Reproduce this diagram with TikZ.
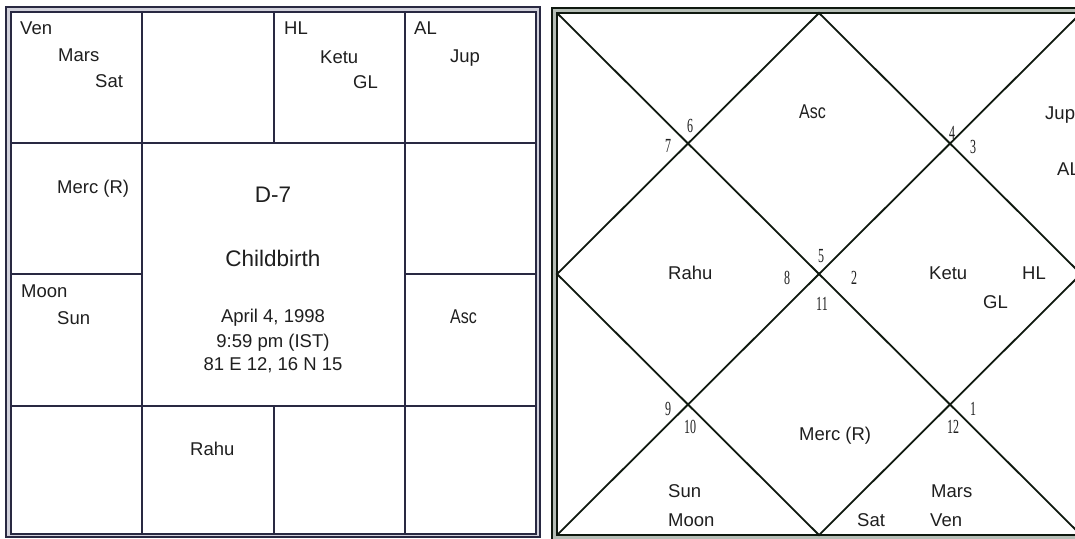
\documentclass[tikz,border=0pt]{standalone}
\usepackage{fontspec}
\setmainfont{Liberation Sans}
\newfontfamily\narrowfont[FakeStretch=0.8]{Liberation Sans}
\newfontfamily\numfont[FakeStretch=0.6]{Liberation Serif}
\usepackage{tikz}
\definecolor{navycol}{rgb}{0.16,0.16,0.26}
\definecolor{gapcol}{rgb}{0.82,0.82,0.86}
\definecolor{inkcol}{rgb}{0.06,0.10,0.06}

\begin{document}
\begin{tikzpicture}[x=1pt,y=-1pt,
  every node/.style={inner sep=0pt,text=black!88,font=\fontsize{18.5}{20}\selectfont},
  pl/.style={anchor=base west},
  asc/.style={anchor=base west,font=\narrowfont\fontsize{20}{20}\selectfont},
  hno/.style={font=\numfont\fontsize{20}{20}\selectfont}]
  \useasboundingbox (0,0) rectangle (1075,538);
  \clip (0,0) rectangle (1075,538);
  \fill[gapcol] (6,7) rectangle (540,537);
  \fill[white] (11,12) rectangle (536,534);
  \draw[navycol,line width=2.2pt] (6,7) rectangle (540,537);
  \draw[navycol,line width=1.6pt] (11,12) rectangle (536,534);
  \begin{scope}[navycol,line width=2.3pt]
    \foreach \x in {142,405} \draw (\x,12) -- (\x,534);
    \foreach \y in {143,406} \draw (11,\y) -- (536,\y);
    \draw (274,12) -- (274,143) (274,406) -- (274,534);
    \draw (11,274) -- (142,274) (405,274) -- (536,274);
  \end{scope}
  \node[pl] (s-ven) at (20,34) {Ven};
  \node[pl] (s-mars) at (58,61) {Mars};
  \node[pl] (s-sat) at (95,87) {Sat};
  \node[pl] (s-hl) at (284,34) {HL};
  \node[pl] (s-ketu) at (320,63) {Ketu};
  \node[pl] (s-gl) at (353,88) {GL};
  \node[pl] (s-al) at (414,34) {AL};
  \node[pl] (s-jup) at (450,62) {Jup};
  \node[pl] (s-merc) at (57,193) {Merc (R)};
  \node[pl] (s-moon) at (21,297) {Moon};
  \node[pl] (s-sun) at (57,324) {Sun};
  \node[asc] (s-asc) at (450,323) {Asc};
  \node[pl] (s-rahu) at (190,455) {Rahu};
  \node[anchor=base,font=\fontsize{22.5}{26}\selectfont] (title) at (273,202) {D-7};
  \node[anchor=base,font=\fontsize{22.5}{26}\selectfont] (event) at (273,266) {Childbirth};
  \node[anchor=base] (bdate) at (273,322) {April 4, 1998};
  \node[anchor=base] (btime) at (273,347) {9:59 pm (IST)};
  \node[anchor=base] (bplace) at (273,370) {81 E 12, 16 N 15};
  \fill[gapcol!70!green!20!gray!60] (552,8) rectangle (1086,540);
  \fill[white] (557,13) rectangle (1081,535);
  \draw[inkcol,line width=2.6pt] (552,8) rectangle (1086,540);
  \draw[inkcol,line width=1.4pt] (557,13) rectangle (1081,535);
  \begin{scope}[inkcol,line width=1.8pt]
    \draw (557,13) -- (1081,535) (1081,13) -- (557,535);
    \draw (819,13) -- (1081,274) -- (819,535) -- (557,274) -- cycle;
  \end{scope}
  \node[asc] (n-asc) at (799,118) {Asc};
  \node[pl] (n-jup) at (1045,119) {Jup};
  \node[pl] (n-al) at (1057,175) {AL};
  \node[pl] (n-rahu) at (668,279) {Rahu};
  \node[pl] (n-ketu) at (929,279) {Ketu};
  \node[pl] (n-hl) at (1022,279) {HL};
  \node[pl] (n-gl) at (983,308) {GL};
  \node[pl] (n-merc) at (799,440) {Merc (R)};
  \node[pl] (n-sun) at (668,497) {Sun};
  \node[pl] (n-moon) at (668,526) {Moon};
  \node[pl] (n-mars) at (931,497) {Mars};
  \node[pl] (n-ven) at (930,526) {Ven};
  \node[pl] (n-sat) at (857,526) {Sat};
  \node[hno] (h6) at (690,126) {6};
  \node[hno] (h7) at (668,146) {7};
  \node[hno] (h4) at (952,133) {4};
  \node[hno] (h3) at (973,147) {3};
  \node[hno] (h8) at (787,278) {8};
  \node[hno] (h5) at (821,256) {5};
  \node[hno] (h2) at (854,278) {2};
  \node[hno] (h11) at (822,304) {11};
  \node[hno] (h9) at (668,409) {9};
  \node[hno] (h10) at (690,427) {10};
  \node[hno] (h12) at (953,427) {12};
  \node[hno] (h1) at (973,409) {1};
\end{tikzpicture}
\end{document}
